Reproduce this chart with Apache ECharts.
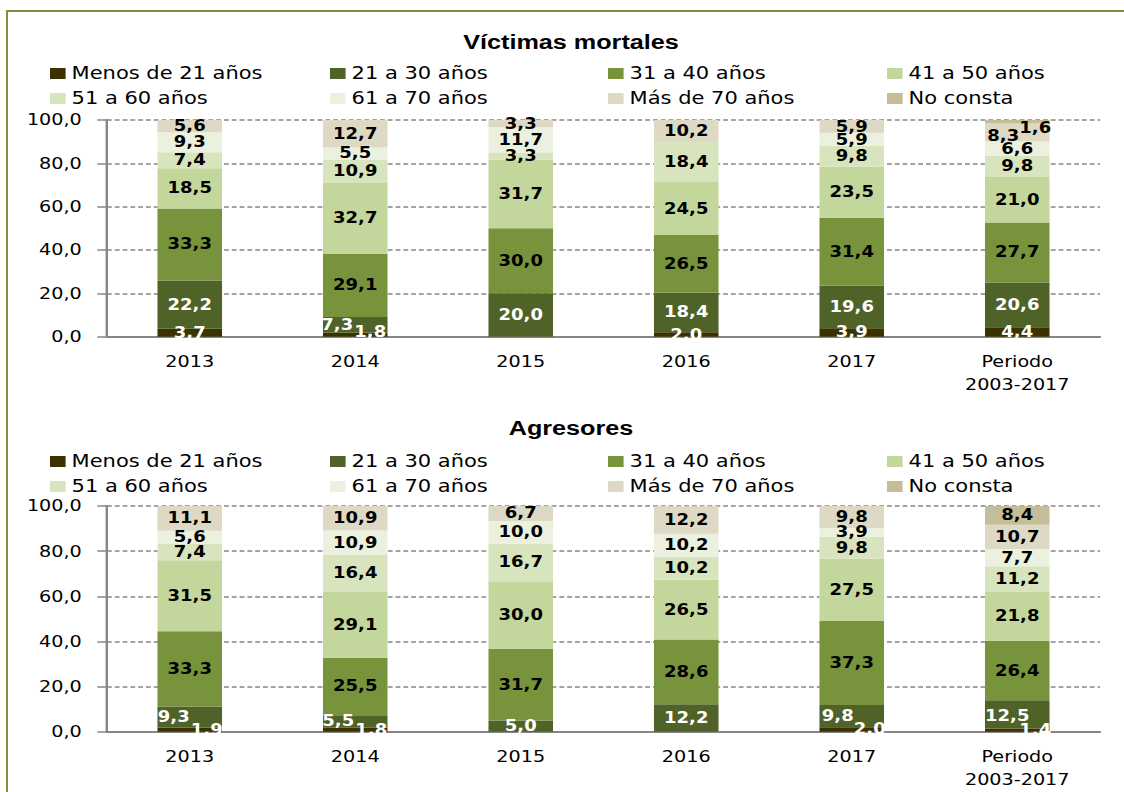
<!DOCTYPE html>
<html>
<head>
<meta charset="utf-8">
<script src="https://cdn.jsdelivr.net/npm/echarts@6/dist/echarts.min.js"></script>
<style>
html,body{margin:0;padding:0;background:#fff;}
#frame{position:absolute;left:6px;top:10px;width:1300px;height:900px;border-top:2px solid #77933c;border-left:2px solid #77933c;}
/* the source picture is stretched sideways, so the chart is drawn narrow and widened */
#main{position:absolute;left:0;top:0;width:937px;height:792px;transform:scaleX(1.2);transform-origin:0 0;}
</style>
</head>
<body>
<div id="frame"></div>
<div id="main"></div>
<script>
var SX = 1.2;

var categories = ['2013', '2014', '2015', '2016', '2017', 'Periodo\n2003-2017'];
var ageGroups = ['Menos de 21 años', '21 a 30 años', '31 a 40 años', '41 a 50 años',
                 '51 a 60 años', '61 a 70 años', 'Más de 70 años', 'No consta'];
var yTicks = [0, 20, 40, 60, 80, 100];

// Víctimas mortales (%)
var vMenos21  = [3.7, 1.8, 0, 2.0, 3.9, 4.4];
var v21a30    = [22.2, 7.3, 20.0, 18.4, 19.6, 20.6];
var v31a40    = [33.3, 29.1, 30.0, 26.5, 31.4, 27.7];
var v41a50    = [18.5, 32.7, 31.7, 24.5, 23.5, 21.0];
var v51a60    = [7.4, 10.9, 3.3, 18.4, 9.8, 9.8];
var v61a70    = [9.3, 5.5, 11.7, 0, 5.9, 6.6];
var vMas70    = [5.6, 12.7, 3.3, 10.2, 5.9, 8.3];
var vNoConsta = [0, 0, 0, 0, 0, 1.6];

// Agresores (%)
var aMenos21  = [1.9, 1.8, 0, 0, 2.0, 1.4];
var a21a30    = [9.3, 5.5, 5.0, 12.2, 9.8, 12.5];
var a31a40    = [33.3, 25.5, 31.7, 28.6, 37.3, 26.4];
var a41a50    = [31.5, 29.1, 30.0, 26.5, 27.5, 21.8];
var a51a60    = [7.4, 16.4, 16.7, 10.2, 9.8, 11.2];
var a61a70    = [5.6, 10.9, 10.0, 10.2, 3.9, 7.7];
var aMas70    = [11.1, 10.9, 6.7, 12.2, 9.8, 10.7];
var aNoConsta = [0, 0, 0, 0, 0, 8.4];

var victimas = [vMenos21, v21a30, v31a40, v41a50, v51a60, v61a70, vMas70, vNoConsta];
var agresores = [aMenos21, a21a30, a31a40, a41a50, a51a60, a61a70, aMas70, aNoConsta];

var colors = ['#3b3200', '#4f6228', '#77933c', '#c3d69b', '#d7e4bd', '#ebf1de', '#ddd9c4', '#c4bd97'];
var labelColors = ['#fff', '#fff', '#000', '#000', '#000', '#000', '#000', '#000'];

// labels that were moved by hand in the original (screen px)
var labelNudges = {
    'v-1-1': [-18, 0], 'v-0-1': [15, -3], 'v-6-5': [-14, 4], 'v-7-5': [18, 6],
    'v-6-4': [0, 1], 'v-5-4': [0, 1],
    'a-1-0': [-16, 0], 'a-0-0': [17, 0], 'a-1-1': [-17, 0], 'a-0-1': [16, 0],
    'a-1-4': [-14, 0], 'a-0-4': [18, 0], 'a-1-5': [-10, 2], 'a-0-5': [18, 0]
};

function fmt(v) {
    return v.toFixed(1).replace('.', ',');
}

var FONT = 'DejaVu Sans';

function buildSeries(groups, key, idx) {
    return groups.map(function (vals, s) {
        return {
            name: ageGroups[s],
            type: 'bar',
            stack: key,
            xAxisIndex: idx,
            yAxisIndex: idx,
            barWidth: '39%',
            itemStyle: { color: colors[s] },
            emphasis: { disabled: true },
            label: {
                show: true,
                position: 'inside',
                fontFamily: FONT,
                fontWeight: 'bold',
                fontSize: 15,
                color: labelColors[s],
                textBorderWidth: 0,
                formatter: function (p) { return p.value ? fmt(p.value) : ''; }
            },
            data: vals.map(function (v, i) {
                var n = labelNudges[key + '-' + s + '-' + i];
                if (!n) return v;
                return { value: v, label: { offset: [n[0] / SX, n[1]] } };
            })
        };
    });
}

function legends(top) {
    var cols = [[0, 4], [1, 5], [2, 6], [3, 7]];
    var lefts = [50, 330, 608, 887];
    return cols.map(function (c, k) {
        return {
            orient: 'vertical',
            left: lefts[k] / SX,
            top: top,
            padding: 0,
            itemGap: 7,
            itemWidth: 13,
            itemHeight: 11,
            icon: 'rect',
            selectedMode: false,
            textStyle: { fontFamily: FONT, fontSize: 17.5, lineHeight: 17, color: '#000' },
            data: [ageGroups[c[0]], ageGroups[c[1]]]
        };
    });
}

function xAxis(idx) {
    return {
        type: 'category',
        gridIndex: idx,
        data: categories,
        axisLine: { lineStyle: { color: '#868686', width: 2 } },
        axisTick: { length: 5, lineStyle: { color: '#868686', width: 1.5 } },
        axisLabel: { fontFamily: FONT, fontSize: 16, lineHeight: 23, margin: 13, color: '#000' }
    };
}

function yAxis(idx) {
    return {
        type: 'value',
        gridIndex: idx,
        min: yTicks[0],
        max: yTicks[yTicks.length - 1],
        interval: yTicks[1] - yTicks[0],
        axisLine: { show: true, lineStyle: { color: '#868686', width: 2 } },
        axisTick: { show: true, length: 8, lineStyle: { color: '#868686', width: 1.5 } },
        axisLabel: { fontFamily: FONT, fontSize: 16, margin: 21, color: '#000', formatter: fmt },
        splitLine: { lineStyle: { color: '#868686', width: 1.5, type: [4, 2.5] } }
    };
}

var chart = echarts.init(document.getElementById('main'), null, { renderer: 'svg' });

var titleStyle = { fontFamily: 'Liberation Sans', fontWeight: 'bold', fontSize: 21, lineHeight: 21, color: '#000' };

var option = {
    animation: false,
    color: colors,
    title: [
        { text: 'Víctimas mortales', left: 571 / SX, top: 31, textAlign: 'center', padding: 0, textStyle: titleStyle },
        { text: 'Agresores', left: 571 / SX, top: 417, textAlign: 'center', padding: 0, textStyle: titleStyle }
    ],
    legend: legends(64.5).concat(legends(452.5)),
    grid: [
        { left: 107 / SX, top: 120, width: 993 / SX, height: 216.7 },
        { left: 107 / SX, top: 506, width: 993 / SX, height: 225.7 }
    ],
    xAxis: [xAxis(0), xAxis(1)],
    yAxis: [yAxis(0), yAxis(1)],
    series: buildSeries(victimas, 'v', 0).concat(buildSeries(agresores, 'a', 1))
};

chart.setOption(option);
</script>
</body>
</html>
